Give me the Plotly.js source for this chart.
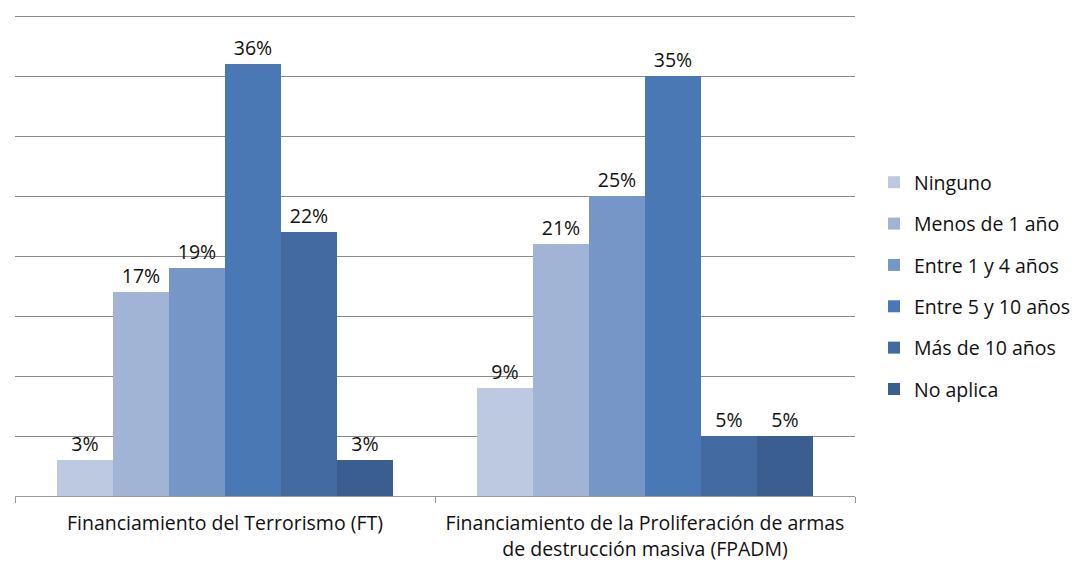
<!DOCTYPE html>
<html>
<head>
<meta charset="utf-8">
<script src="https://cdn.plot.ly/plotly-3.0.1.min.js"></script>
<style>html,body{margin:0;padding:0;background:#fff;}#chart{width:1074px;height:563px;}</style>
</head>
<body>
<div id="chart"></div>
<script>
const categories = ["Financiamiento del Terrorismo (FT)", "Financiamiento de la Proliferación de armas<br>de destrucción masiva (FPADM)"];
const seriesNames = ["Ninguno", "Menos de 1 año", "Entre 1 y 4 años", "Entre 5 y 10 años", "Más de 10 años", "No aplica"];
const ninguno = [3, 9];
const menos1 = [17, 21];
const entre1y4 = [19, 25];
const entre5y10 = [36, 35];
const mas10 = [22, 5];
const noAplica = [3, 5];
const seriesValues = [ninguno, menos1, entre1y4, entre5y10, mas10, noAplica];
const colors = ["#BCC9E1", "#A1B4D6", "#7596C6", "#4A78B4", "#436BA1", "#3A5E8F"];

const FONT = "Open Sans, Noto Sans, sans-serif";
const traces = seriesNames.map((name, i) => ({
  type: "bar",
  name: name,
  x: categories,
  y: seriesValues[i],
  marker: {color: colors[i], line: {width: 0}},
  text: seriesValues[i].map(v => v + "%"),
  textposition: "outside",
  cliponaxis: false,
  textfont: {family: FONT, size: 19.5, color: "#111"},
  legendgroup: "g" + i,
  hoverinfo: "name+y"
}));

const layout = {
  width: 1074, height: 563,
  margin: {l: 15, r: 219, t: 10, b: 67, autoexpand: false},
  paper_bgcolor: "#fff", plot_bgcolor: "#fff",
  barmode: "group",
  bargap: 0.2,
  bargroupgap: 0,
  font: {family: FONT, size: 19.5, color: "#111"},
  xaxis: {
    showline: true, linecolor: "#999", linewidth: 1,
    ticks: "outside", tickson: "boundaries", ticklen: 6, tickcolor: "#999",
    tickfont: {family: FONT, size: 19.5, color: "#111"},
    ticklabelstandoff: 10,
    showgrid: false, automargin: false
  },
  yaxis: {
    range: [0, 40.5], dtick: 5, showticklabels: false,
    showgrid: true, gridcolor: "#8c8c8c", gridwidth: 1,
    zeroline: false, showline: false, ticks: "", automargin: false
  },
  legend: {
    x: 1.0226, y: 0.432, xanchor: "left", yanchor: "middle",
    font: {family: FONT, size: 19.5, color: "#111"},
    traceorder: "grouped", tracegroupgap: 13,
    itemwidth: 30
  },
  showlegend: true
};

Plotly.newPlot("chart", traces, layout, {displayModeBar: false, staticPlot: true});
</script>
</body>
</html>
